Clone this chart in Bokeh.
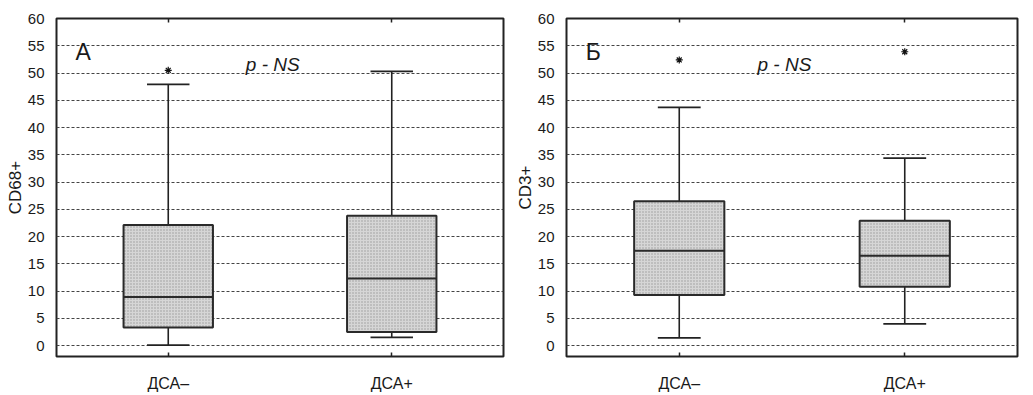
from bokeh.plotting import figure
from bokeh.models import (ColumnDataSource, FactorRange, Range1d, Label, CategoricalAxis,
                          FixedTicker)
from bokeh.transform import dodge
from bokeh.layouts import row
from bokeh.embed import file_html
from bokeh.resources import INLINE

cats = ["ДСА–", "ДСА+"]
y_ticks = list(range(0, 61, 5))

# Panel A (CD68+)
a_min = [0.1, 1.5]
a_q1 = [3.3, 2.5]
a_med = [8.9, 12.3]
a_q3 = [22.1, 23.8]
a_max = [47.9, 50.3]
a_out_cat = ["ДСА–"]
a_out_val = [50.5]

# Panel B (CD3+)
b_min = [1.4, 4.0]
b_q1 = [9.3, 10.8]
b_med = [17.4, 16.5]
b_q3 = [26.5, 22.9]
b_max = [43.7, 34.4]
b_out_cat = ["ДСА–", "ДСА+"]
b_out_val = [52.4, 53.9]

FONT = "Liberation Sans"


def make_panel(mins, q1, med, q3, maxs, out_cat, out_val, ylabel, letter, width,
               border_left, border_right):
    p = figure(x_range=FactorRange(factors=cats, range_padding=0), y_range=Range1d(-2, 60),
               width=width, height=394, output_backend="svg", toolbar_location=None,
               min_border_left=border_left, min_border_right=border_right, min_border_top=18,
               min_border_bottom=36)
    p.outline_line_color = "#222222"
    p.outline_line_width = 2
    p.background_fill_color = "white"
    p.border_fill_color = "white"

    src = ColumnDataSource(dict(cat=cats, mn=mins, q1=q1, med=med, q3=q3, mx=maxs))
    p.segment(x0="cat", y0="q3", x1="cat", y1="mx", source=src, line_color="#222222", line_width=1.6)
    p.segment(x0="cat", y0="q1", x1="cat", y1="mn", source=src, line_color="#222222", line_width=1.6)
    p.segment(x0=dodge("cat", -0.095, range=p.x_range), y0="mx",
              x1=dodge("cat", 0.095, range=p.x_range), y1="mx", source=src,
              line_color="#222222", line_width=1.8)
    p.segment(x0=dodge("cat", -0.095, range=p.x_range), y0="mn",
              x1=dodge("cat", 0.095, range=p.x_range), y1="mn", source=src,
              line_color="#222222", line_width=1.8)
    p.vbar(x="cat", top="q3", bottom="q1", width=0.4, source=src,
           fill_color="#d6d6d6", line_color="#2a2a2a", line_width=2,
           hatch_pattern="dot", hatch_color="#9a9a9a", hatch_scale=3, hatch_weight=1)
    p.segment(x0=dodge("cat", -0.2, range=p.x_range), y0="med",
              x1=dodge("cat", 0.2, range=p.x_range), y1="med", source=src,
              line_color="#2a2a2a", line_width=2)
    osrc = ColumnDataSource(dict(cat=out_cat, val=out_val))
    p.scatter(x="cat", y="val", source=osrc, marker="asterisk", size=7,
              line_color="#111111", line_width=1.2)

    p.xgrid.grid_line_color = None
    p.ygrid.grid_line_color = "#444444"
    p.ygrid.grid_line_dash = "3 2"
    p.ygrid.grid_line_width = 1
    p.ygrid.ticker = FixedTicker(ticks=y_ticks)

    p.yaxis.ticker = FixedTicker(ticks=y_ticks)
    p.yaxis.axis_line_color = None
    p.yaxis.major_tick_line_color = None
    p.yaxis.minor_tick_line_color = None
    p.yaxis.major_label_standoff = 6
    p.yaxis.major_label_text_font = FONT
    p.yaxis.major_label_text_font_size = "15px"
    p.yaxis.major_label_text_color = "#1a1a1a"
    p.yaxis.axis_label = ylabel
    p.yaxis.axis_label_text_font = FONT
    p.yaxis.axis_label_text_font_size = "17px"
    p.yaxis.axis_label_text_font_style = "normal"
    p.yaxis.axis_label_text_color = "#1a1a1a"
    p.yaxis.axis_label_standoff = 0

    p.xaxis.axis_line_color = None
    p.xaxis.major_tick_in = 4
    p.xaxis.major_tick_out = 0
    p.xaxis.major_tick_line_color = "#222222"
    p.xaxis.major_tick_line_width = 1.5
    p.xaxis.major_label_standoff = 18
    p.xaxis.major_label_text_font = FONT
    p.xaxis.major_label_text_font_size = "16px"
    p.xaxis.major_label_text_color = "#1a1a1a"

    top = CategoricalAxis(axis_line_color=None, major_tick_in=4, major_tick_out=0,
                          major_tick_line_color="#222222", major_tick_line_width=1.5,
                          major_label_text_font_size="0px", major_label_text_color=None)
    p.add_layout(top, "above")

    p.add_layout(Label(x=0.085, y=53.9, text=letter, text_font=FONT, text_font_size="23px",
                       text_color="#1a1a1a", text_baseline="alphabetic"))
    p.add_layout(Label(x=0.847, y=51.5, text="p - NS", text_font=FONT, text_font_size="19px",
                       text_font_style="italic", text_color="#1a1a1a", text_baseline="alphabetic"))
    return p


pa = make_panel(a_min, a_q1, a_med, a_q3, a_max, a_out_cat, a_out_val, "CD68+", "А", 512, 56, 9)
pb = make_panel(b_min, b_q1, b_med, b_q3, b_max, b_out_cat, b_out_val, "CD3+", "Б", 521, 48, 16)

layout = row(pa, pb)
open("out.html", "w").write(file_html(layout, INLINE))
